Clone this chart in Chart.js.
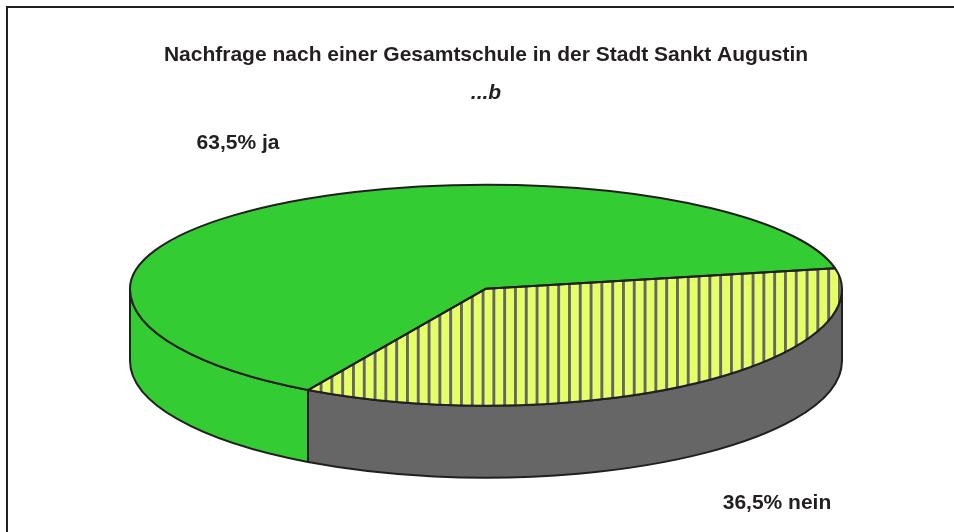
<!DOCTYPE html>
<html>
<head>
<meta charset="utf-8">
<title>Nachfrage nach einer Gesamtschule in der Stadt Sankt Augustin</title>
<script src="https://cdn.jsdelivr.net/npm/chart.js@4"></script>
<style>
  html, body { margin: 0; padding: 0; background: #fff; overflow: hidden; }
  #frame { position: absolute; left: 6px; top: 6px; width: 970px; height: 560px; border: 2px solid #231f20; box-sizing: border-box; }
  #c { position: absolute; left: 0; top: 0; }
</style>
</head>
<body>
<div id="frame"></div>
<canvas id="c" width="954" height="532"></canvas>
<script>
// survey result (percent)
const labels = ['nein', 'ja'];
const shares = [36.5, 63.5];
const titleText = 'Nachfrage nach einer Gesamtschule in der Stadt Sankt Augustin';
const subtitleText = '...b';

const FONT = "'Liberation Sans', Arial, sans-serif";
const EDGE = '#231f20';
const GREEN = '#33cc33';
const GREY = '#666666';

// 3d look: back half and front half are squashed differently (perspective), walls are DEPTH px high
const TILT_BACK = 104 / 356;
const TILT_FRONT = 117 / 356;
const DEPTH = 72;

// yellow with vertical grey stripes for the "nein" slice
function stripes() {
  const c = document.createElement('canvas');
  c.width = 54; c.height = 4;
  const g = c.getContext('2d');
  g.fillStyle = '#e5ff66';
  g.fillRect(0, 0, 54, 4);
  g.fillStyle = GREY;
  for (let i = 0; i < 5; i++) g.fillRect(6.4 + i * 10.8, 0, 2.9, 4);
  return g.createPattern(c, 'repeat');
}

const ctx0 = document.getElementById('c').getContext('2d');
const topColors = [stripes(), GREEN];
const sideColors = [GREY, GREEN];

function geom(arc) {
  return arc.getProps(['x', 'y', 'startAngle', 'endAngle', 'outerRadius'], true);
}

// ellipse rim from angle a to b, split at multiples of PI so each half gets its own tilt
function addRim(ctx, g, a, b, dy) {
  const dir = b >= a ? 1 : -1;
  let t = a;
  while ((b - t) * dir > 1e-9) {
    let next = dir > 0
      ? (Math.floor(t / Math.PI + 1e-9) + 1) * Math.PI
      : (Math.ceil(t / Math.PI - 1e-9) - 1) * Math.PI;
    if ((next - b) * dir > 0) next = b;
    const ry = g.outerRadius * (Math.sin((t + next) / 2) >= 0 ? TILT_FRONT : TILT_BACK);
    ctx.ellipse(g.x, g.y + dy, g.outerRadius, ry, 0, t, next, dir < 0);
    t = next;
  }
}

function squash(ctx, g, k) {
  ctx.translate(g.x, g.y);
  ctx.scale(1, k);
  ctx.translate(-g.x, -g.y);
}

const pie3d = {
  id: 'pie3d',
  beforeDatasetDraw(chart, args) {
    const ctx = chart.ctx;
    const arcs = args.meta.data;
    ctx.save();
    ctx.lineWidth = 2;
    ctx.strokeStyle = EDGE;
    ctx.lineJoin = 'round';
    // side walls, only the front half is visible
    arcs.forEach((arc, i) => {
      const g = geom(arc);
      for (let k = -1; k <= 1; k++) {
        const lo = Math.max(g.startAngle, 2 * Math.PI * k);
        const hi = Math.min(g.endAngle, 2 * Math.PI * k + Math.PI);
        if (hi <= lo) continue;
        ctx.beginPath();
        addRim(ctx, g, lo, hi, 0);
        addRim(ctx, g, hi, lo, DEPTH);
        ctx.closePath();
        ctx.fillStyle = sideColors[i];
        ctx.fill();
        ctx.stroke();
      }
    });
    ctx.restore();
    // top face, back half (clip reaches a little past the centre line so no seam shows)
    const g = geom(arcs[0]);
    ctx.save();
    ctx.beginPath();
    ctx.rect(0, 0, chart.width, Math.ceil(g.y) + 2);
    ctx.clip();
    squash(ctx, g, TILT_BACK);
  },
  afterDatasetDraw(chart, args) {
    const ctx = chart.ctx;
    const arcs = args.meta.data;
    ctx.restore();
    // top face, front half
    const g0 = geom(arcs[0]);
    const cut = Math.floor(g0.y);
    ctx.save();
    ctx.beginPath();
    ctx.rect(0, cut, chart.width, chart.height - cut);
    ctx.clip();
    squash(ctx, g0, TILT_FRONT);
    args.meta.controller.draw();
    ctx.restore();
    // slice outlines on the top face
    ctx.save();
    ctx.lineWidth = 2;
    ctx.strokeStyle = EDGE;
    ctx.lineJoin = 'round';
    arcs.forEach(arc => {
      const g = geom(arc);
      ctx.beginPath();
      ctx.moveTo(g.x, g.y);
      addRim(ctx, g, g.startAngle, g.endAngle, 0);
      ctx.closePath();
      ctx.stroke();
    });
    ctx.restore();
  },
  afterDraw(chart) {
    const ctx = chart.ctx;
    const spots = [[777, 503], [238, 143]];
    ctx.save();
    ctx.font = `bold 21px ${FONT}`;
    ctx.fillStyle = EDGE;
    ctx.textAlign = 'center';
    ctx.textBaseline = 'middle';
    shares.forEach((v, i) => {
      const txt = v.toFixed(1).replace('.', ',') + '% ' + labels[i];
      ctx.fillText(txt, spots[i][0], spots[i][1]);
    });
    ctx.restore();
  }
};

new Chart(ctx0, {
  type: 'pie',
  data: {
    labels: labels,
    datasets: [{
      data: shares,
      backgroundColor: topColors,
      borderWidth: 0,
      clip: false
    }]
  },
  options: {
    responsive: false,
    animation: false,
    events: [],
    radius: 356,
    rotation: 78.6,
    layout: { padding: { left: 18, right: 0, top: 0, bottom: 60 } },
    plugins: {
      legend: { display: false },
      tooltip: { enabled: false },
      title: {
        display: true,
        text: titleText,
        color: EDGE,
        font: { family: FONT, size: 21, weight: 'bold' },
        padding: { top: 43, bottom: 0 }
      },
      subtitle: {
        display: true,
        text: subtitleText,
        color: EDGE,
        font: { family: FONT, size: 21, weight: 'bold', style: 'italic' },
        padding: { top: 12, bottom: 0 }
      }
    }
  },
  plugins: [pie3d]
});
</script>
</body>
</html>
